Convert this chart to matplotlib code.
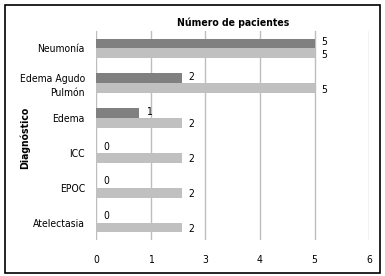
import matplotlib
matplotlib.use("Agg")
import matplotlib.pyplot as plt
from matplotlib.patches import Rectangle
import numpy as np

categories = ["Neumonía", "Edema Agudo\nPulmón", "Edema", "ICC", "EPOC", "Atelectasia"]
# bar lengths as read against the axis grid (grid positions 0..5)
dark_lengths = [4.0, 1.57, 0.78, 0.0, 0.0, 0.0]
light_lengths = [4.0, 4.0, 1.57, 1.57, 1.57, 1.57]
# printed value labels
dark_labels = ["5", "2", "1", "0", "0", "0"]
light_labels = ["5", "5", "2", "2", "2", "2"]
tick_labels = ["0", "1", "3", "4", "5", "6"]

plt.rcParams['font.family'] = ['DejaVu Sans']
plt.rcParams['font.stretch'] = 'condensed'

fig = plt.figure(figsize=(3.85, 2.76), dpi=100)
ax = fig.add_axes([96/385, 1-240/276, (369.3-96)/385, (240-31)/276])

n = len(categories)
y = np.arange(n)
h = 0.28
dark = "#808080"
light = "#c0c0c0"
ax.barh(y - h/2, dark_lengths, height=h, color=dark, zorder=3)
ax.barh(y + h/2, light_lengths, height=h, color=light, zorder=3)

for yi, v, lab in zip(y, dark_lengths, dark_labels):
    ax.annotate(lab, (v, yi - h/2), xytext=(5, 1), textcoords="offset points",
                ha="left", va="center", fontsize=7.5)
for yi, v, lab in zip(y, light_lengths, light_labels):
    ax.annotate(lab, (v, yi + h/2), xytext=(5, -1), textcoords="offset points",
                ha="left", va="center", fontsize=7.5)

ax.set_ylim(n - 0.5, -0.5)
ax.set_xlim(0, 5)
ax.set_xticks(range(len(tick_labels)))
ax.set_xticklabels(tick_labels, fontsize=7.5)
ax.set_yticks(y)
ax.set_yticklabels(categories, fontsize=7.5, linespacing=1.45)
ax.tick_params(axis='x', length=0, pad=11)
ax.tick_params(axis='y', length=0, pad=8)
ax.grid(axis='x', color="#bdbdbd", linewidth=1, zorder=0)
for s in ax.spines.values():
    s.set_visible(False)

fig.text(233/385, 1-23/276, "Número de pacientes", ha="center", va="center",
         fontsize=7.5, fontweight="bold")
fig.text(25/385, 1-138/276, "Diagnóstico", ha="center", va="center",
         rotation=90, fontsize=7.5, fontweight="bold")

fig.patches.append(Rectangle((5/385, 1-273/276), (380-5)/385, (273-5)/276,
                             transform=fig.transFigure, fill=False,
                             edgecolor="black", linewidth=1.2))

fig.savefig("out.png", dpi=100)
